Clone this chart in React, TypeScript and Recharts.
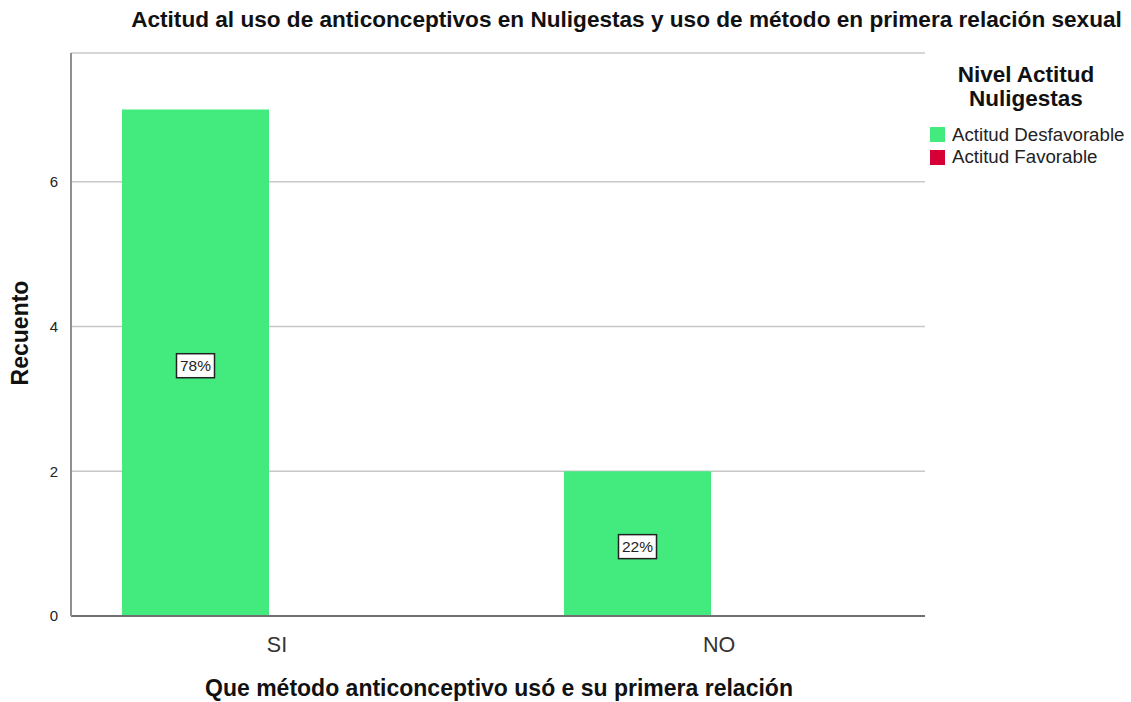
import React from 'react';
import { BarChart, Bar, XAxis, YAxis, CartesianGrid, LabelList } from 'recharts';

const categories = ['SI', 'NO'];
const desfavorable = [7, 2];
const favorable = [0, 0];
const percentLabels = ['78%', '22%'];
const yTicks = [0, 2, 4, 6];

const GREEN = '#43EB7F';
const RED = '#D60036';
const FONT = '"Liberation Sans", Arial, sans-serif';

const data = categories.map((c, i) => ({
  name: c,
  desfavorable: desfavorable[i],
  favorable: favorable[i],
  pct: percentLabels[i],
}));

const BoxLabel = (props: any) => {
  const { x, y, width, height, index } = props;
  const label = percentLabels[index];
  if (!label || !height) return null;
  const cx = x + width / 2;
  const cy = y + height / 2 + 3;
  const w = 38;
  const h = 24;
  return (
    <g>
      <rect x={cx - w / 2} y={cy - h / 2} width={w} height={h} fill="#fff" stroke="#222" strokeWidth={1.5} />
      <text x={cx} y={cy + 5.5} textAnchor="middle" fontSize={15.5} fontFamily={FONT} fill="#222">
        {label}
      </text>
    </g>
  );
};

export default function App() {
  return (
    <div style={{ position: 'relative', width: 1131, height: 702, fontFamily: FONT, background: '#fff' }}>
      <style>{`body{margin:0}`}</style>
      <div style={{ position: 'absolute', left: 0, top: 7, width: 1131, lineHeight: '26px', paddingLeft: 122, boxSizing: 'border-box', textAlign: 'center', fontWeight: 'bold', fontSize: 22.6, color: '#111', whiteSpace: 'nowrap' }}>
        Actitud al uso de anticonceptivos en Nuligestas y uso de método en primera relación sexual
      </div>
      <BarChart
        width={1131}
        height={702}
        data={data}
        margin={{ top: 53, right: 206, bottom: 56, left: 0 }}
        barCategoryGap={74}
        barGap={0}
      >
        <CartesianGrid vertical={false} stroke="#c8c8c8" strokeWidth={1.5} />
        <XAxis
          dataKey="name"
          height={30}
          padding={{ left: -23, right: -7 }}
          axisLine={{ stroke: '#707070', strokeWidth: 2 }}
          tickLine={false}
          tick={{ fontSize: 21.5, fill: '#333', fontFamily: FONT, dx: 8 }}
          tickMargin={15}
        />
        <YAxis
          width={71}
          domain={[0, 7.78]}
          ticks={yTicks}
          allowDataOverflow
          axisLine={{ stroke: '#909090', strokeWidth: 2 }}
          tickLine={false}
          tick={{ fontSize: 15, fill: '#222', fontFamily: FONT }}
          tickMargin={7}
        />
        <Bar dataKey="desfavorable" fill={GREEN} isAnimationActive={false}>
          <LabelList dataKey="pct" content={BoxLabel} />
        </Bar>
        <Bar dataKey="favorable" fill={RED} isAnimationActive={false} />
      </BarChart>
      <div style={{ position: 'absolute', left: 20, top: 333, transform: 'translate(-50%, -50%) rotate(-90deg)', lineHeight: '26px', fontWeight: 'bold', fontSize: 23, color: '#111', whiteSpace: 'nowrap' }}>
        Recuento
      </div>
      <div style={{ position: 'absolute', left: 0, top: 675, width: 998, lineHeight: '26px', textAlign: 'center', fontWeight: 'bold', fontSize: 23, color: '#111', whiteSpace: 'nowrap' }}>
        Que método anticonceptivo usó e su primera relación
      </div>
      <div style={{ position: 'absolute', left: 926, top: 63, width: 200, textAlign: 'center', fontWeight: 'bold', fontSize: 22.5, lineHeight: '24px', color: '#111', whiteSpace: 'nowrap' }}>
        <div>Nivel Actitud</div>
        <div>Nuligestas</div>
      </div>
      <div style={{ position: 'absolute', left: 930, top: 123.5, fontSize: 18.7, color: '#222', lineHeight: '22.5px', whiteSpace: 'nowrap' }}>
        {[{ label: 'Actitud Desfavorable', color: GREEN }, { label: 'Actitud Favorable', color: RED }].map((it) => (
          <div key={it.label} style={{ display: 'flex', alignItems: 'center' }}>
            <span style={{ display: 'inline-block', width: 15, height: 15, background: it.color, marginRight: 7 }} />
            <span>{it.label}</span>
          </div>
        ))}
      </div>
    </div>
  );
}
